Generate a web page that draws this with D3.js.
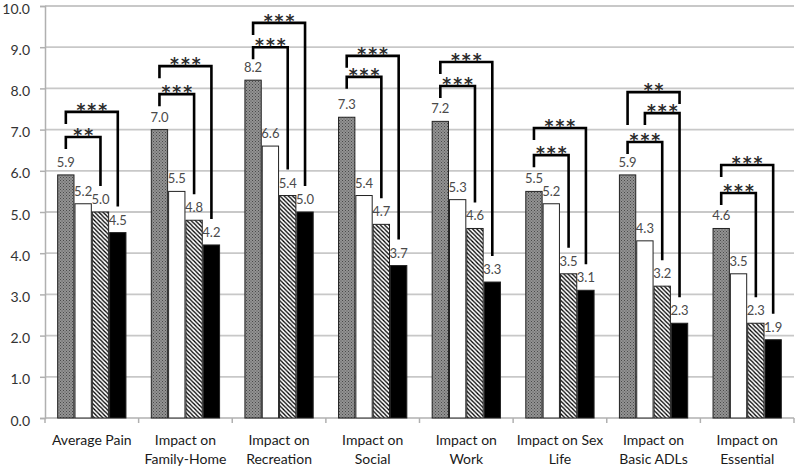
<!DOCTYPE html>
<html><head><meta charset="utf-8">
<script src="https://cdn.jsdelivr.net/npm/d3@7"></script>
<style>body{margin:0;background:#fff}svg{display:block}</style>
</head><body>
<script>
const categories = [["Average Pain"],["Impact on","Family-Home"],["Impact on","Recreation"],["Impact on","Social"],["Impact on","Work"],["Impact on Sex","Life"],["Impact on","Basic ADLs"],["Impact on","Essential"]];
const series1 = [5.9, 7.0, 8.2, 7.3, 7.2, 5.5, 5.9, 4.6];
const series2 = [5.2, 5.5, 6.6, 5.4, 5.3, 5.2, 4.3, 3.5];
const series3 = [5.0, 4.8, 5.4, 4.7, 4.6, 3.5, 3.2, 2.3];
const series4 = [4.5, 4.2, 5.0, 3.7, 3.3, 3.1, 2.3, 1.9];
const yTicks = [0,1,2,3,4,5,6,7,8,9,10];
// significance brackets (group, from series, to series, level in value units, label)
const bracketGroup = [0,0,1,1,2,2,3,3,4,4,5,5,6,6,6,7,7];
const bracketFrom  = [0,0,0,0,0,0,0,0,0,0,0,0,0,1,0,0,0];
const bracketTo    = [2,3,2,3,2,3,2,3,2,3,2,3,2,3,3,2,3];
const bracketLevel = [6.82,7.43,7.86,8.54,9.00,9.59,8.28,8.79,8.06,8.64,6.38,7.04,6.70,7.40,7.91,5.46,6.14];
const bracketLabel = ["**","***","***","***","***","***","***","***","***","***","***","***","***","***","**","***","***"];
const bracketLeftEnd  = [null,null,null,null,null,null,null,null,null,null,null,null,null,null,7.11,null,null];
const bracketRightEnd = [null,null,null,null,null,null,null,null,null,null,null,null,null,null,7.62,null,null];

const W = 797, H = 468;
const M = {l:45, r:3, t:6, b:50};
const svg = d3.select("body").append("svg").attr("width", W).attr("height", H);
const defs = svg.append("defs");

const pg = defs.append("pattern").attr("id","pGray").attr("patternUnits","userSpaceOnUse").attr("width",3).attr("height",3);
pg.append("rect").attr("width",3).attr("height",3).attr("fill","#939393");
pg.append("rect").attr("x",0).attr("y",0).attr("width",1).attr("height",1).attr("fill","#4a4a4a");
pg.append("rect").attr("x",1.5).attr("y",1.5).attr("width",1).attr("height",1).attr("fill","#555");
const ph = defs.append("pattern").attr("id","pHatch").attr("patternUnits","userSpaceOnUse").attr("width",4.2).attr("height",4.2);
ph.append("rect").attr("width",4.2).attr("height",4.2).attr("fill","#fff");
ph.append("path").attr("d","M-1,-1 L5.2,5.2 M-1,3.2 L1,5.2 M3.2,-1 L5.2,1").attr("stroke","#000").attr("stroke-width",1.3);

const fills = ["url(#pGray)","#fff","url(#pHatch)","#000"];
const allSeries = [series1, series2, series3, series4];

const x0 = d3.scaleBand().domain(d3.range(categories.length)).range([M.l, W - M.r]).paddingInner(0.26).paddingOuter(0.13);
const x1 = d3.scaleBand().domain(d3.range(4)).range([0, x0.bandwidth()]).padding(0);
const y = d3.scaleLinear().domain([0,10]).range([418, 6]);

// gridlines
svg.append("g").selectAll("line").data(yTicks.filter(d=>d>0)).join("line")
  .attr("x1", M.l).attr("x2", W - M.r).attr("y1", d=>y(d)).attr("y2", d=>y(d))
  .attr("stroke","#c8c8c8").attr("stroke-width",1.8);

// y axis
const yAxis = svg.append("g").attr("transform",`translate(${M.l},0)`)
  .call(d3.axisLeft(y).tickValues(yTicks).tickFormat(d3.format(".1f")).tickSize(5).tickPadding(10));
yAxis.select(".domain").attr("stroke","#b0b0b0").attr("stroke-width",1.5);
yAxis.selectAll(".tick line").attr("stroke","#b0b0b0").attr("stroke-width",1.5);
yAxis.selectAll(".tick text").attr("font-family","Lato, sans-serif").attr("font-size",14).attr("fill","#333").attr("dy","0.5em");

// x axis line and boundary ticks
const xg = svg.append("g");
xg.append("line").attr("x1",M.l).attr("x2",W-M.r).attr("y1",y(0)).attr("y2",y(0)).attr("stroke","#b0b0b0").attr("stroke-width",1.5);
const step = x0.step();
xg.selectAll("line.tk").data(d3.range(categories.length+1)).join("line").attr("class","tk")
  .attr("x1", i => M.l + i*step).attr("x2", i => M.l + i*step)
  .attr("y1", y(0)).attr("y2", y(0)+5).attr("stroke","#b0b0b0").attr("stroke-width",1.5);

// x labels
const xl = svg.append("g");
categories.forEach((lines, i) => {
  const t = xl.append("text").attr("x", x0(i) + x0.bandwidth()/2).attr("y", 445)
    .attr("text-anchor","middle").attr("font-family","Lato, sans-serif").attr("font-size",14).attr("fill","#1a1a1a");
  lines.forEach((ln, j) => t.append("tspan").attr("x", x0(i) + x0.bandwidth()/2).attr("dy", j===0?0:19).text(ln));
});

// bars
const bars = [];
categories.forEach((c, i) => allSeries.forEach((s, k) => bars.push({i, k, v: s[i]})));
svg.append("g").selectAll("rect").data(bars).join("rect")
  .attr("x", d => x0(d.i) + x1(d.k) + 0.5)
  .attr("y", d => y(d.v))
  .attr("width", x1.bandwidth() - 1)
  .attr("height", d => y(0) - y(d.v))
  .attr("fill", d => fills[d.k])
  .attr("stroke", "#222").attr("stroke-width", 1);

// value labels
svg.append("g").selectAll("text").data(bars).join("text")
  .attr("x", d => x0(d.i) + x1(d.k) + x1.bandwidth()/2)
  .attr("y", d => y(d.v) - 8)
  .attr("text-anchor","middle").attr("font-family","Lato, sans-serif").attr("font-size",13).attr("fill","#4a4a4a")
  .text(d => d3.format(".1f")(d.v));

// brackets
const bg = svg.append("g");
const legPx = 12, rightGap = 26;
bracketGroup.forEach((g, n) => {
  const xa = x0(g) + x1(bracketFrom[n]) + x1.bandwidth()/2;
  const xb = x0(g) + x1(bracketTo[n]) + x1.bandwidth()/2;
  const yt = y(bracketLevel[n]);
  const ya = bracketLeftEnd[n] != null ? y(bracketLeftEnd[n]) : yt + legPx;
  const yb = bracketRightEnd[n] != null ? y(bracketRightEnd[n]) : y(allSeries[bracketTo[n]][g]) - rightGap;
  bg.append("path").attr("d", `M${xa},${ya} L${xa},${yt} L${xb},${yt} L${xb},${yb}`)
    .attr("fill","none").attr("stroke","#000").attr("stroke-width",2.6);
  bg.append("text").attr("x", (xa+xb)/2 + 1).attr("y", yt + 4)
    .attr("text-anchor","middle").attr("font-family","DejaVu Sans, sans-serif").attr("font-size",17).attr("font-weight","bold")
    .attr("letter-spacing",2).attr("fill","#2a2a2a").text(bracketLabel[n]);
});
</script>
</body></html>
